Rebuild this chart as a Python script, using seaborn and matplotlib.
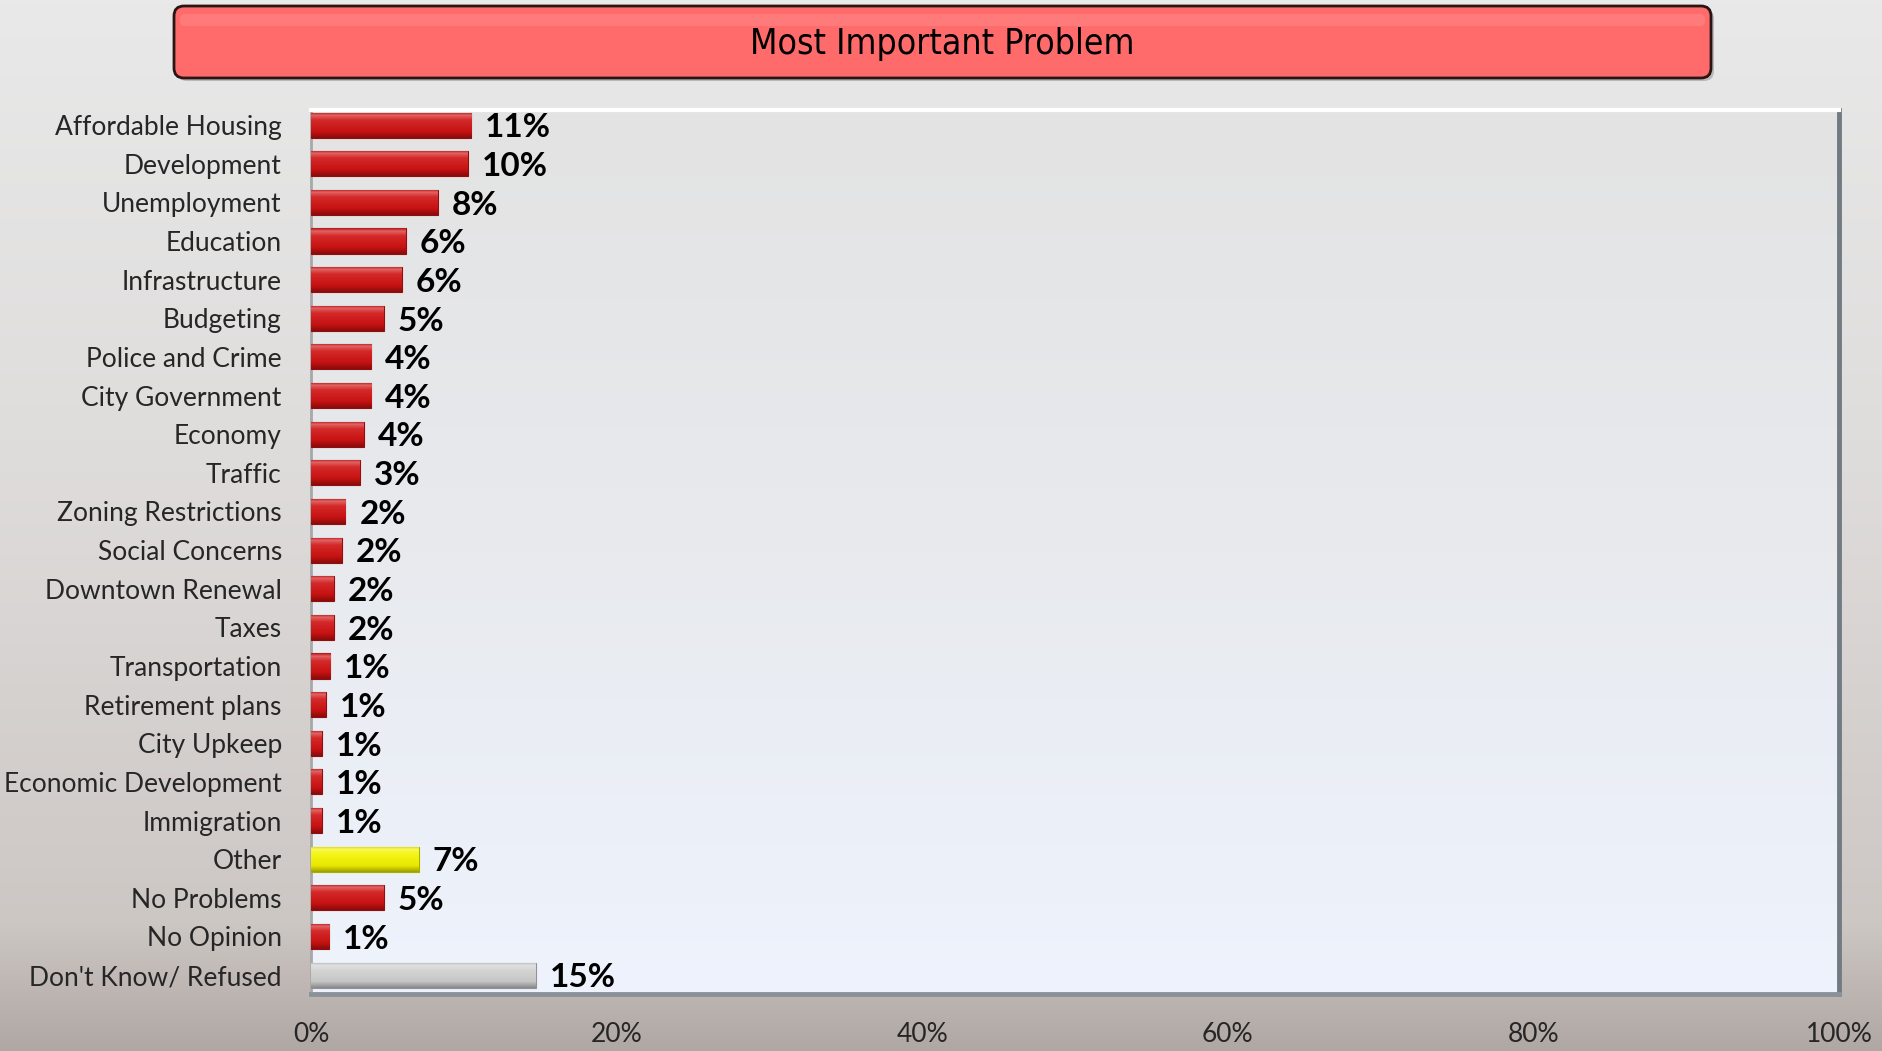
import numpy as np
import pandas as pd
import matplotlib
matplotlib.use("Agg")
import matplotlib.pyplot as plt
import seaborn as sns
from matplotlib.colors import LinearSegmentedColormap, to_rgb
from matplotlib.patches import FancyBboxPatch

categories = ["Affordable Housing", "Development", "Unemployment", "Education",
              "Infrastructure", "Budgeting", "Police and Crime", "City Government",
              "Economy", "Traffic", "Zoning Restrictions", "Social Concerns",
              "Downtown Renewal", "Taxes", "Transportation", "Retirement plans",
              "City Upkeep", "Economic Development", "Immigration", "Other",
              "No Problems", "No Opinion", "Don't Know/ Refused"]
values = [10.5, 10.25, 8.3, 6.2, 5.95, 4.75, 3.95, 3.95, 3.45, 3.2, 2.25, 2.0,
          1.5, 1.5, 1.25, 0.95, 0.7, 0.7, 0.7, 7.05, 4.75, 1.2, 14.7]
value_labels = ["11%", "10%", "8%", "6%", "6%", "5%", "4%", "4%", "4%", "3%", "2%",
                "2%", "2%", "2%", "1%", "1%", "1%", "1%", "1%", "7%", "5%", "1%", "15%"]
groups = ["Issue"] * 19 + ["Other", "Issue", "Issue", "Unknown"]
group_colors = {"Issue": "#d01212", "Other": "#f4f400", "Unknown": "#d0d0d0"}
x_ticks = [0, 20, 40, 60, 80, 100]
x_tick_labels = ["0%", "20%", "40%", "60%", "80%", "100%"]
title = "Most Important Problem"

sns.set_theme(style="white")
plt.rcParams["font.family"] = ["Lato", "DejaVu Sans"]

W, H = 1883, 1051
fig = plt.figure(figsize=(W / 100, H / 100), dpi=100)

# figure background gradient
bg = fig.add_axes([0, 0, 1, 1], zorder=-10)
bg.axis("off")
bg_cmap = LinearSegmentedColormap.from_list(
    "bg", [(0, "#e9e9e9"), (0.45, "#dedcdb"), (0.88, "#cdc7c4"), (1.0, "#b0a7a3")])
vg = np.linspace(0, 1, 256).reshape(-1, 1)
bg.imshow(vg, cmap=bg_cmap, aspect="auto", extent=[0, 1, 0, 1], origin="upper")
bg.set_xlim(0, 1); bg.set_ylim(0, 1)

# title box
shadow = FancyBboxPatch((1.77, (H - 81) / 100), 15.37, 0.72,
                        boxstyle="round,pad=0,rounding_size=0.1",
                        transform=fig.dpi_scale_trans, facecolor="#8a8080",
                        edgecolor="none", alpha=0.45, zorder=1)
fig.patches.append(shadow)
tbox = FancyBboxPatch((1.74, (H - 78) / 100), 15.37, 0.72,
                      boxstyle="round,pad=0,rounding_size=0.1",
                      transform=fig.dpi_scale_trans, facecolor="#ff6b6b",
                      edgecolor="#2a1515", linewidth=2, zorder=2)
fig.patches.append(tbox)
hl = FancyBboxPatch((1.80, (H - 26) / 100), 15.25, 0.12,
                    boxstyle="round,pad=0,rounding_size=0.05",
                    transform=fig.dpi_scale_trans, facecolor="#ff8a8a",
                    edgecolor="none", alpha=0.5, zorder=3)
fig.patches.append(hl)
fig.text(942 / W, 1 - 44 / H, title, ha="center", va="center", fontsize=25.5,
         family=["DejaVu Sans"], fontstretch="condensed", color="black", zorder=5)

# main axes
left, right, top, bottom = 311, 1839, 110, 994
ax = fig.add_axes([left / W, 1 - bottom / H, (right - left) / W, (bottom - top) / H])

df = pd.DataFrame({"category": categories, "value": values, "group": groups})
palette = {c: group_colors[g] for c, g in zip(categories, groups)}
sns.barplot(data=df, x="value", y="category", hue="category", palette=palette,
            legend=False, width=0.65, orient="h", ax=ax, saturation=1,
            edgecolor="none", zorder=3)

# plot area gradient
pa_cmap = LinearSegmentedColormap.from_list("pa", ["#e3e3e3", "#e8eaee", "#eef3fd"])
ax.imshow(vg, cmap=pa_cmap, aspect="auto", extent=[0, 1, 0, 1],
          transform=ax.transAxes, origin="upper", zorder=0)


def shade(c, f):
    r = np.array(to_rgb(c))
    if f >= 0:
        return tuple(r + (1 - r) * f)
    return tuple(r * (1 + f))


# glossy gradient per bar
for p in list(ax.patches):
    bb = p.get_bbox()
    fc = p.get_facecolor()[:3]
    cm = LinearSegmentedColormap.from_list(
        "b", [(0, shade(fc, -0.15)), (0.12, shade(fc, 0.35)), (0.3, shade(fc, 0.1)),
              (0.75, shade(fc, -0.05)), (1.0, shade(fc, -0.35))])
    y_top, y_bot = min(bb.y0, bb.y1), max(bb.y0, bb.y1)
    im = ax.imshow(vg, cmap=cm, aspect="auto",
                   extent=[bb.x0, bb.x1, y_bot, y_top], origin="upper", zorder=4)
    im.set_clip_path(p)
    p.set_edgecolor(shade(fc, -0.3))
    p.set_linewidth(0.8)

# data labels
for p, lab in zip(sorted(ax.patches, key=lambda q: q.get_y()), value_labels):
    bb = p.get_bbox()
    ax.annotate(lab, xy=(bb.x1, (bb.y0 + bb.y1) / 2), xytext=(10, -2),
                textcoords="offset points", ha="left", va="center",
                fontsize=24, fontweight="bold", color="black", zorder=6)

ax.set_xlim(0, 100)
ax.set_ylim(22.49, -0.39)
ax.set_xticks(x_ticks)
ax.set_xticklabels(x_tick_labels, fontsize=19)
ax.tick_params(axis="x", length=0, pad=20)
ax.tick_params(axis="y", length=0, pad=21, labelsize=19)
ax.set_xlabel("")
ax.set_ylabel("")
ax.grid(False)
ax.spines["left"].set_color("#a8a8a8")
ax.spines["left"].set_linewidth(2)
ax.spines["top"].set_color("#ffffff")
ax.spines["top"].set_linewidth(3)
ax.spines["right"].set_color("#727a82")
ax.spines["right"].set_linewidth(3.5)
ax.spines["bottom"].set_color("#8a9299")
ax.spines["bottom"].set_linewidth(3.5)

fig.savefig("out.png", dpi=100)
